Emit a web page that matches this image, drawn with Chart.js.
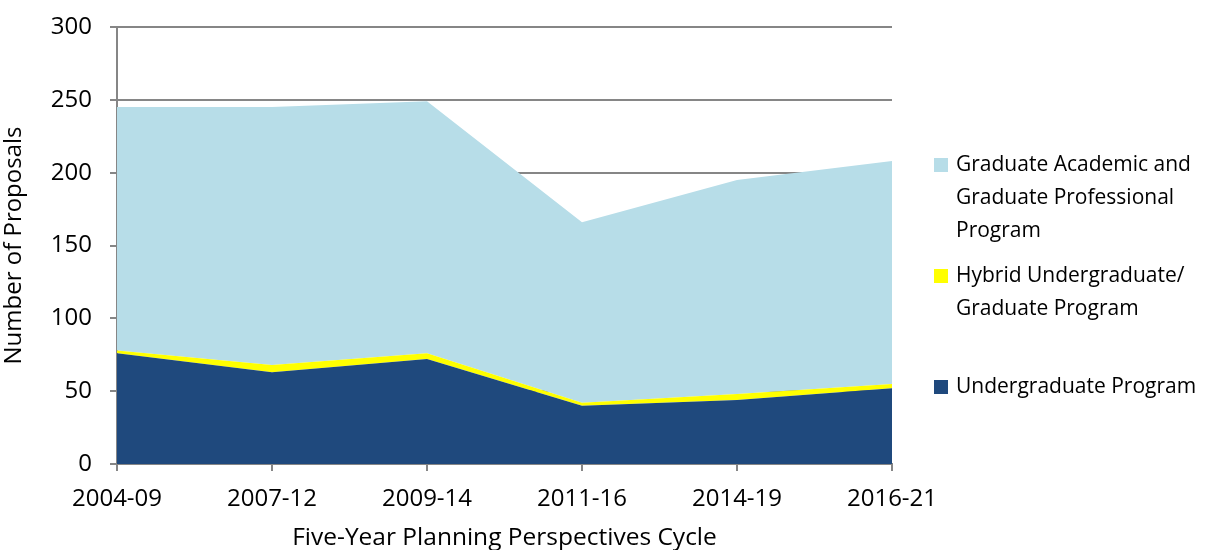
<!DOCTYPE html>
<html>
<head>
<meta charset="utf-8">
<script src="https://cdn.jsdelivr.net/npm/chart.js@4/dist/chart.umd.min.js"></script>
<style>
  html, body { margin: 0; padding: 0; background: #fff; }
  #wrap { width: 1220px; height: 550px; }
</style>
</head>
<body>
<div id="wrap"><canvas id="areaChart" width="1220" height="550"></canvas></div>
<script>
  const cycles = ['2004-09', '2007-12', '2009-14', '2011-16', '2014-19', '2016-21'];
  const undergrad = [76, 63, 72, 40, 44, 52];
  const hybrid = [2, 5, 4, 2, 4, 3];
  const graduate = [167, 177, 173, 124, 147, 153];
  const yTicks = [0, 50, 100, 150, 200, 250, 300];

  const undergradLabel = ['Undergraduate Program'];
  const hybridLabel = ['Hybrid Undergraduate/', 'Graduate Program'];
  const graduateLabel = ['Graduate Academic and', 'Graduate Professional', 'Program'];

  const FONT = 'Open Sans';

  // legend drawn by hand, the labels wrap over several lines
  const sideLegend = {
    id: 'sideLegend',
    afterDraw(chart) {
      const ctx = chart.ctx;
      const items = [
        { lines: graduateLabel, color: '#B7DDE8', y: 165 },
        { lines: hybridLabel, color: '#FFFF00', y: 276 },
        { lines: undergradLabel, color: '#1F497D', y: 387 },
      ];
      ctx.save();
      ctx.font = '21px ' + FONT;
      ctx.textBaseline = 'middle';
      items.forEach((it) => {
        ctx.fillStyle = it.color;
        ctx.fillRect(934, it.y - 7, 14, 14);
        ctx.fillStyle = '#000';
        it.lines.forEach((ln, i) => {
          ctx.fillText(ln, 956, it.y + i * 33);
        });
      });
      ctx.restore();
    },
  };

  const ctx = document.getElementById('areaChart').getContext('2d');
  const chart = new Chart(ctx, {
    type: 'line',
    data: {
      labels: cycles,
      datasets: [
        {
          label: undergradLabel.join(' '),
          data: undergrad,
          backgroundColor: '#1F497D',
          borderWidth: 0,
          pointRadius: 0,
          fill: 'origin',
        },
        {
          label: hybridLabel.join(' '),
          data: hybrid,
          backgroundColor: '#FFFF00',
          borderWidth: 0,
          pointRadius: 0,
          fill: '-1',
        },
        {
          label: graduateLabel.join(' '),
          data: graduate,
          backgroundColor: '#B7DDE8',
          borderWidth: 0,
          pointRadius: 0,
          fill: '-1',
        },
      ],
    },
    options: {
      responsive: false,
      animation: false,
      layout: { padding: { left: 0, right: 328, top: 27, bottom: 0 } },
      plugins: {
        legend: { display: false },
        tooltip: { enabled: false },
      },
      scales: {
        x: {
          offset: false,
          grid: {
            drawOnChartArea: false,
            drawTicks: true,
            tickLength: 7,
            color: '#868686',
            lineWidth: 2,
          },
          border: { color: '#868686', width: 2 },
          ticks: { color: '#000', font: { family: FONT, size: 24 }, padding: 14, maxRotation: 0 },
          title: {
            display: true,
            text: 'Five-Year Planning Perspectives Cycle',
            color: '#000',
            font: { family: FONT, size: 24.5 },
            padding: { top: 10, bottom: -3 },
          },
          afterFit(scale) { scale.height = 86; },
        },
        y: {
          stacked: true,
          min: 0,
          max: 300,
          afterBuildTicks(scale) { scale.ticks = yTicks.map((v) => ({ value: v })); },
          grid: {
            color: '#868686',
            lineWidth: 2,
            tickLength: 7,
          },
          border: { color: '#868686', width: 2 },
          ticks: { color: '#000', font: { family: FONT, size: 24 }, padding: 18 },
          title: {
            display: true,
            text: 'Number of Proposals',
            color: '#000',
            font: { family: FONT, size: 24 },
            padding: { top: 0, bottom: 4 },
          },
          afterFit(scale) {
            scale.width = 117;
            scale.paddingTop = 0;
            scale.paddingBottom = 0;
          },
        },
      },
    },
    plugins: [sideLegend],
  });
</script>
</body>
</html>
